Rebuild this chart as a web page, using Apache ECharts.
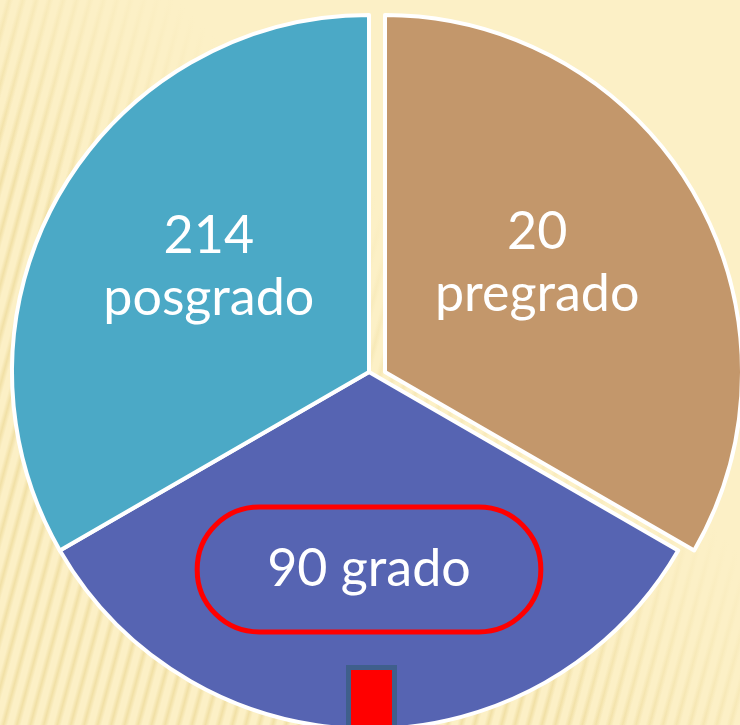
<!DOCTYPE html>
<html>
<head>
<meta charset="utf-8">
<script src="https://cdn.jsdelivr.net/npm/echarts@6/dist/echarts.min.js"></script>
<style>
  html, body { margin: 0; padding: 0; }
  #chart {
    width: 740px; height: 725px;
    background:
      linear-gradient(to bottom left, #FCF0C6 0%, #FCF0C6 38%, rgba(252,240,198,0) 62%),
      repeating-linear-gradient(105deg, #FCF0C6 0px, #FCF0C6 5px, #F1E0A6 9px, #FCF0C6 13px);
  }
</style>
</head>
<body>
<div id="chart"></div>
<script>
// Categories in clockwise order from 12 o'clock
const categories = ['pregrado', 'grado', 'posgrado'];
// Numbers written in the slices
const counts = [20, 90, 214];
// Slice sizes as drawn in the reference (three equal thirds)
const shares = [1, 1, 1];
// Which slice is pulled out of the pie
const explodedIndex = 0;

const sliceColors = ['#C3976B', '#5664B2', '#4BA9C6'];

const chart = echarts.init(document.getElementById('chart'), null, { renderer: 'canvas' });

const baseLabel = {
  show: true,
  position: 'inside',
  color: '#ffffff',
  fontFamily: 'Lato',
  fontSize: 52,
  lineHeight: 62
};

function labelFor(i) {
  if (categories[i] === 'grado') {
    return Object.assign({}, baseLabel, {
      formatter: counts[i] + ' ' + categories[i],
      borderColor: '#FF0000',
      borderWidth: 5,
      borderRadius: 62,
      padding: [31, 70, 32, 70],
      offset: [0, 16]
    });
  }
  return Object.assign({}, baseLabel, {
    formatter: counts[i] + '\n' + categories[i],
    offset: i === explodedIndex ? [-5, -18] : [-3, -14]
  });
}

function buildData(showExploded) {
  return categories.map((name, i) => {
    const visible = showExploded ? i === explodedIndex : i !== explodedIndex;
    return {
      name: name,
      value: shares[i],
      itemStyle: visible
        ? { color: sliceColors[i], borderColor: '#ffffff', borderWidth: 4 }
        : { color: 'rgba(0,0,0,0)', borderWidth: 0 },
      label: visible ? labelFor(i) : { show: false }
    };
  });
}

const option = {
  backgroundColor: 'transparent',
  animation: false,
  series: [
    {
      type: 'pie',
      center: [369, 372],
      radius: 357,
      startAngle: 90,
      clockwise: true,
      silent: true,
      labelLine: { show: false },
      data: buildData(false)
    },
    {
      type: 'pie',
      center: [385, 372],
      radius: 357,
      startAngle: 90,
      clockwise: true,
      silent: true,
      labelLine: { show: false },
      data: buildData(true)
    }
  ],
  graphic: [
    {
      type: 'rect',
      left: 346,
      top: 665,
      shape: { width: 46, height: 70 },
      style: { fill: '#FF0000', stroke: '#3F5F8C', lineWidth: 5 },
      z: 100
    }
  ]
};

chart.setOption(option);
</script>
</body>
</html>
